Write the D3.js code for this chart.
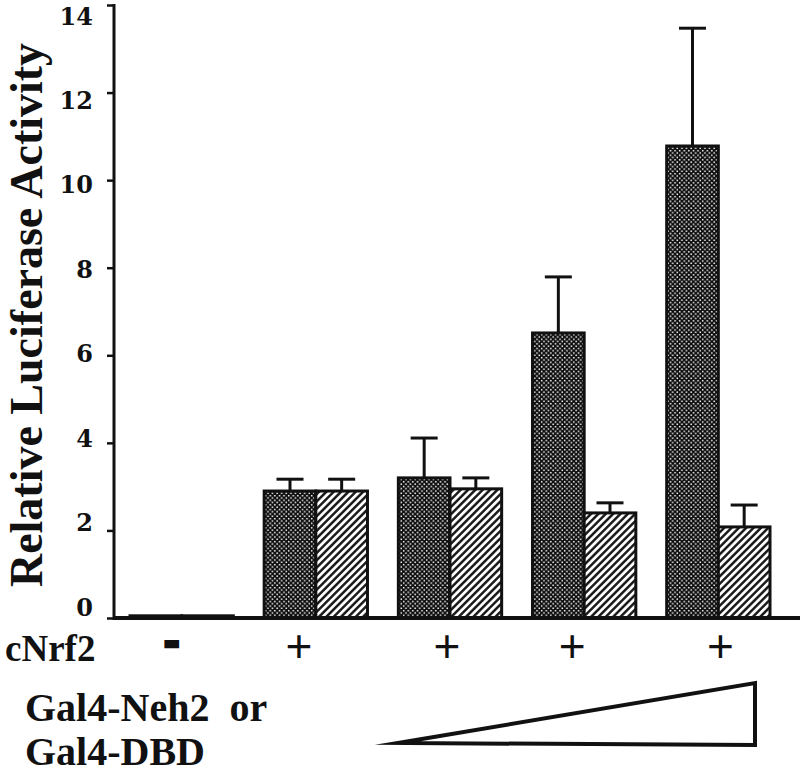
<!DOCTYPE html>
<html>
<head>
<meta charset="utf-8">
<script src="https://cdn.jsdelivr.net/npm/d3@7"></script>
<style>
  html, body { margin: 0; padding: 0; background: #fff; }
  svg { display: block; }
</style>
</head>
<body>
<svg id="chart" width="800" height="773"></svg>
<script>
// ---- data ----
const groups = ["g1", "g2", "g3", "g4", "g5"];
const cNrf2Signs = ["-", "+", "+", "+", "+"];
const series = ["Gal4-Neh2", "Gal4-DBD"];
const neh2Values = [0.05, 2.90, 3.20, 6.51, 10.78];
const neh2Errors = [0, 0.27, 0.91, 1.28, 2.69];
const dbdValues = [0.05, 2.90, 2.95, 2.40, 2.08];
const dbdErrors = [0, 0.27, 0.25, 0.23, 0.50];
const yTicks = [0, 2, 4, 6, 8, 10, 12, 14];
const yTitle = "Relative Luciferase Activity";
const rowLabel = "cNrf2";
const doseLabel1 = "Gal4-Neh2\u00a0\u00a0or";
const doseLabel2 = "Gal4-DBD";

// ---- layout ----
const svg = d3.select("#chart");
const axisX = 114, baseY = 618, topY = 5;
const signOffsets = [-10, -17, -3, -12, 2];

const y = d3.scaleLinear().domain([0, 14]).range([baseY, topY]);
const yLab = d3.scaleLinear().domain([0, 14]).range([607, 16]);
const x = d3.scaleBand().domain(groups).range([130, 770]).paddingInner(0.23).paddingOuter(0);
const xs = d3.scaleBand().domain(series).range([0, x.bandwidth()]);

// patterns
const defs = svg.append("defs");
const dots = defs.append("pattern").attr("id", "dots").attr("patternUnits", "userSpaceOnUse")
  .attr("width", 4.6).attr("height", 4.6);
dots.append("rect").attr("width", 4.6).attr("height", 4.6).attr("fill", "#0d0d0d");
dots.append("rect").attr("x", 0.4).attr("y", 0.4).attr("width", 1.5).attr("height", 1.5).attr("fill", "#fff");
dots.append("rect").attr("x", 2.7).attr("y", 2.7).attr("width", 1.5).attr("height", 1.5).attr("fill", "#fff");

const hatch = defs.append("pattern").attr("id", "hatch").attr("patternUnits", "userSpaceOnUse")
  .attr("width", 5.2).attr("height", 10).attr("patternTransform", "rotate(45)");
hatch.append("rect").attr("width", 5.2).attr("height", 10).attr("fill", "#fff");
hatch.append("line").attr("x1", 1.3).attr("x2", 1.3).attr("y1", 0).attr("y2", 10)
  .attr("stroke", "#111").attr("stroke-width", 2.4);

// data rows
const rows = groups.map((g, i) => [
  { g, s: series[0], v: neh2Values[i], e: neh2Errors[i], fill: "url(#dots)" },
  { g, s: series[1], v: dbdValues[i], e: dbdErrors[i], fill: "url(#hatch)" }
]).flat();

// error bars (upper only)
const errG = svg.append("g").attr("stroke", "#111").attr("stroke-width", 3);
rows.filter(d => d.e > 0).forEach(d => {
  const cx = x(d.g) + xs(d.s) + xs.bandwidth() / 2;
  errG.append("line").attr("x1", cx).attr("x2", cx).attr("y1", y(d.v)).attr("y2", y(d.v + d.e));
  errG.append("line").attr("x1", cx - 13.5).attr("x2", cx + 13.5).attr("y1", y(d.v + d.e)).attr("y2", y(d.v + d.e));
});

// bars
svg.append("g").selectAll("rect").data(rows).join("rect")
  .attr("x", d => x(d.g) + xs(d.s))
  .attr("y", d => y(d.v))
  .attr("width", xs.bandwidth())
  .attr("height", d => baseY - y(d.v))
  .attr("fill", d => d.fill)
  .attr("stroke", "#111")
  .attr("stroke-width", 3);

// y axis
const yAxis = d3.axisLeft(y).tickValues(yTicks).tickSize(7).tickFormat("");
const ya = svg.append("g").attr("transform", `translate(${axisX},0)`).call(yAxis);
ya.select(".domain").remove();
ya.selectAll(".tick line").attr("stroke", "#111").attr("stroke-width", 2.5);
svg.append("line").attr("x1", axisX).attr("x2", axisX).attr("y1", topY - 1).attr("y2", baseY + 2)
  .attr("stroke", "#111").attr("stroke-width", 3);
svg.append("g").selectAll("text").data(yTicks).join("text")
  .attr("x", 93).attr("y", d => yLab(d))
  .attr("dy", "0.36em")
  .attr("text-anchor", "end")
  .attr("font-family", "DejaVu Serif")
  .attr("font-weight", "bold")
  .attr("font-size", 24)
  .attr("fill", "#111")
  .text(d => d);

// x baseline
svg.append("line").attr("x1", axisX - 1).attr("x2", 800).attr("y1", baseY).attr("y2", baseY)
  .attr("stroke", "#111").attr("stroke-width", 4);

// y title
svg.append("text")
  .attr("transform", `translate(42,${(38 + 592) / 2}) rotate(-90)`)
  .attr("text-anchor", "middle")
  .attr("font-family", "Liberation Serif")
  .attr("font-weight", "bold")
  .attr("font-size", 46)
  .attr("fill", "#111")
  .text(yTitle);

// cNrf2 row
svg.append("text").attr("x", 5).attr("y", 661)
  .attr("font-family", "Liberation Serif").attr("font-weight", "bold")
  .attr("font-size", 37).attr("fill", "#111").text(rowLabel);
svg.append("g").selectAll("text").data(cNrf2Signs).join("text")
  .attr("x", (d, i) => x(groups[i]) + x.bandwidth() / 2 + signOffsets[i])
  .attr("y", d => d === "+" ? 662 : 657)
  .attr("text-anchor", "middle")
  .attr("font-family", "Liberation Sans")
  .attr("font-weight", d => d === "+" ? "normal" : "bold")
  .attr("font-size", d => d === "+" ? 46 : 48)
  .attr("fill", "#111")
  .attr("stroke", d => d === "+" ? "none" : "#111")
  .attr("stroke-width", 2.5)
  .text(d => d);

// dose labels
svg.append("text").attr("x", 25).attr("y", 721)
  .attr("font-family", "Liberation Serif").attr("font-weight", "bold")
  .attr("font-size", 40).attr("fill", "#111").text(doseLabel1);
svg.append("text").attr("x", 25).attr("y", 765)
  .attr("font-family", "Liberation Serif").attr("font-weight", "bold")
  .attr("font-size", 40).attr("fill", "#111").text(doseLabel2);

// increasing-dose triangle
svg.append("path")
  .attr("d", "M398,743 L755,683 L755,745 Z")
  .attr("fill", "#fff")
  .attr("stroke", "#111")
  .attr("stroke-width", 4)
  .attr("stroke-linejoin", "miter")
  .attr("stroke-miterlimit", 30);
</script>
</body>
</html>
